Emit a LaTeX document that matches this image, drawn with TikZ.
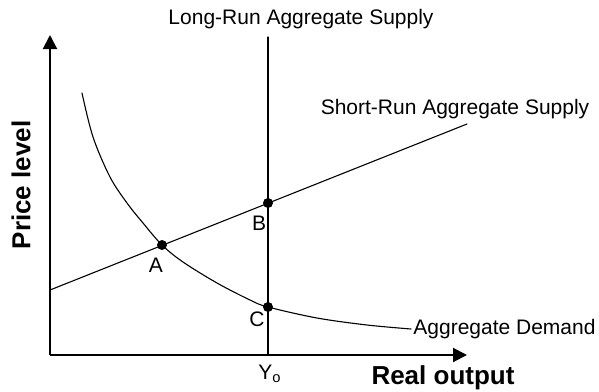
\documentclass[tikz,border=0pt]{standalone}
\usepackage{fontspec}
\setmainfont{Liberation Sans}
\usetikzlibrary{arrows.meta,positioning}

\begin{document}
\begin{tikzpicture}[
    x=0.5pt, y=-0.5pt,
    font=\fontsize{10.5}{12}\selectfont,
    axis/.style={line width=1pt, -{Triangle[length=7pt,width=7pt]}},
    curve/.style={draw=black, line width=.55pt, line cap=round},
    eqpoint/.style={circle, fill=black, inner sep=0pt, minimum size=5pt},
    axislabel/.style={font=\fontsize{13}{15}\selectfont\bfseries},
    ptlabel/.style={inner sep=0pt}
]
    \useasboundingbox (0,0) rectangle (599,391);

    % axes
    \coordinate (origin) at (50,355);
    \coordinate (ytip) at (50,35);
    \coordinate (xtip) at (467,355);
    \draw[axis] (origin) -- (ytip);
    \draw[axis] (origin) -- (xtip);
    \node[axislabel, rotate=90] (pricelbl) at (21,185) {Price level};
    \node[axislabel] (outputlbl) at (443,378) {Real output};

    % equilibrium points
    \node[eqpoint] (A) at (162,245) {};
    \node[eqpoint] (B) at (268,203) {};
    \node[eqpoint] (C) at (268,307) {};

    % long-run supply
    \coordinate (lrasT) at (268,37);
    \coordinate (lrasB) at (268,355);
    \draw[curve] (lrasT) -- (lrasB);
    \node (lraslbl) at (301,19) {Long-Run Aggregate Supply};
    \node (y0lbl) at (270,374) {Y\textsubscript{o}};

    % short-run supply
    \coordinate (srasL) at (50,290);
    \coordinate (srasR) at (467,124);
    \draw[curve] (srasL) -- (srasR);
    \node (sraslbl) at (455,109) {Short-Run Aggregate Supply};

    % aggregate demand
    \coordinate (adR) at (411,329);
    \draw[curve] plot[smooth, tension=.55] coordinates {(82,93) (93,137) (110,177) (127,203) (143,223) (A) (183,262) (217,283) (250,300) (C) (317,318) (367,325) (adR)};
    \node[anchor=west, inner sep=1pt] (adlbl) at (adR) {Aggregate Demand};

    % point labels
    \node[ptlabel] (Albl) at (156,265) {A};
    \node[ptlabel] (Blbl) at (259,223) {B};
    \node[ptlabel] (Clbl) at (257,319) {C};
\end{tikzpicture}
\end{document}
